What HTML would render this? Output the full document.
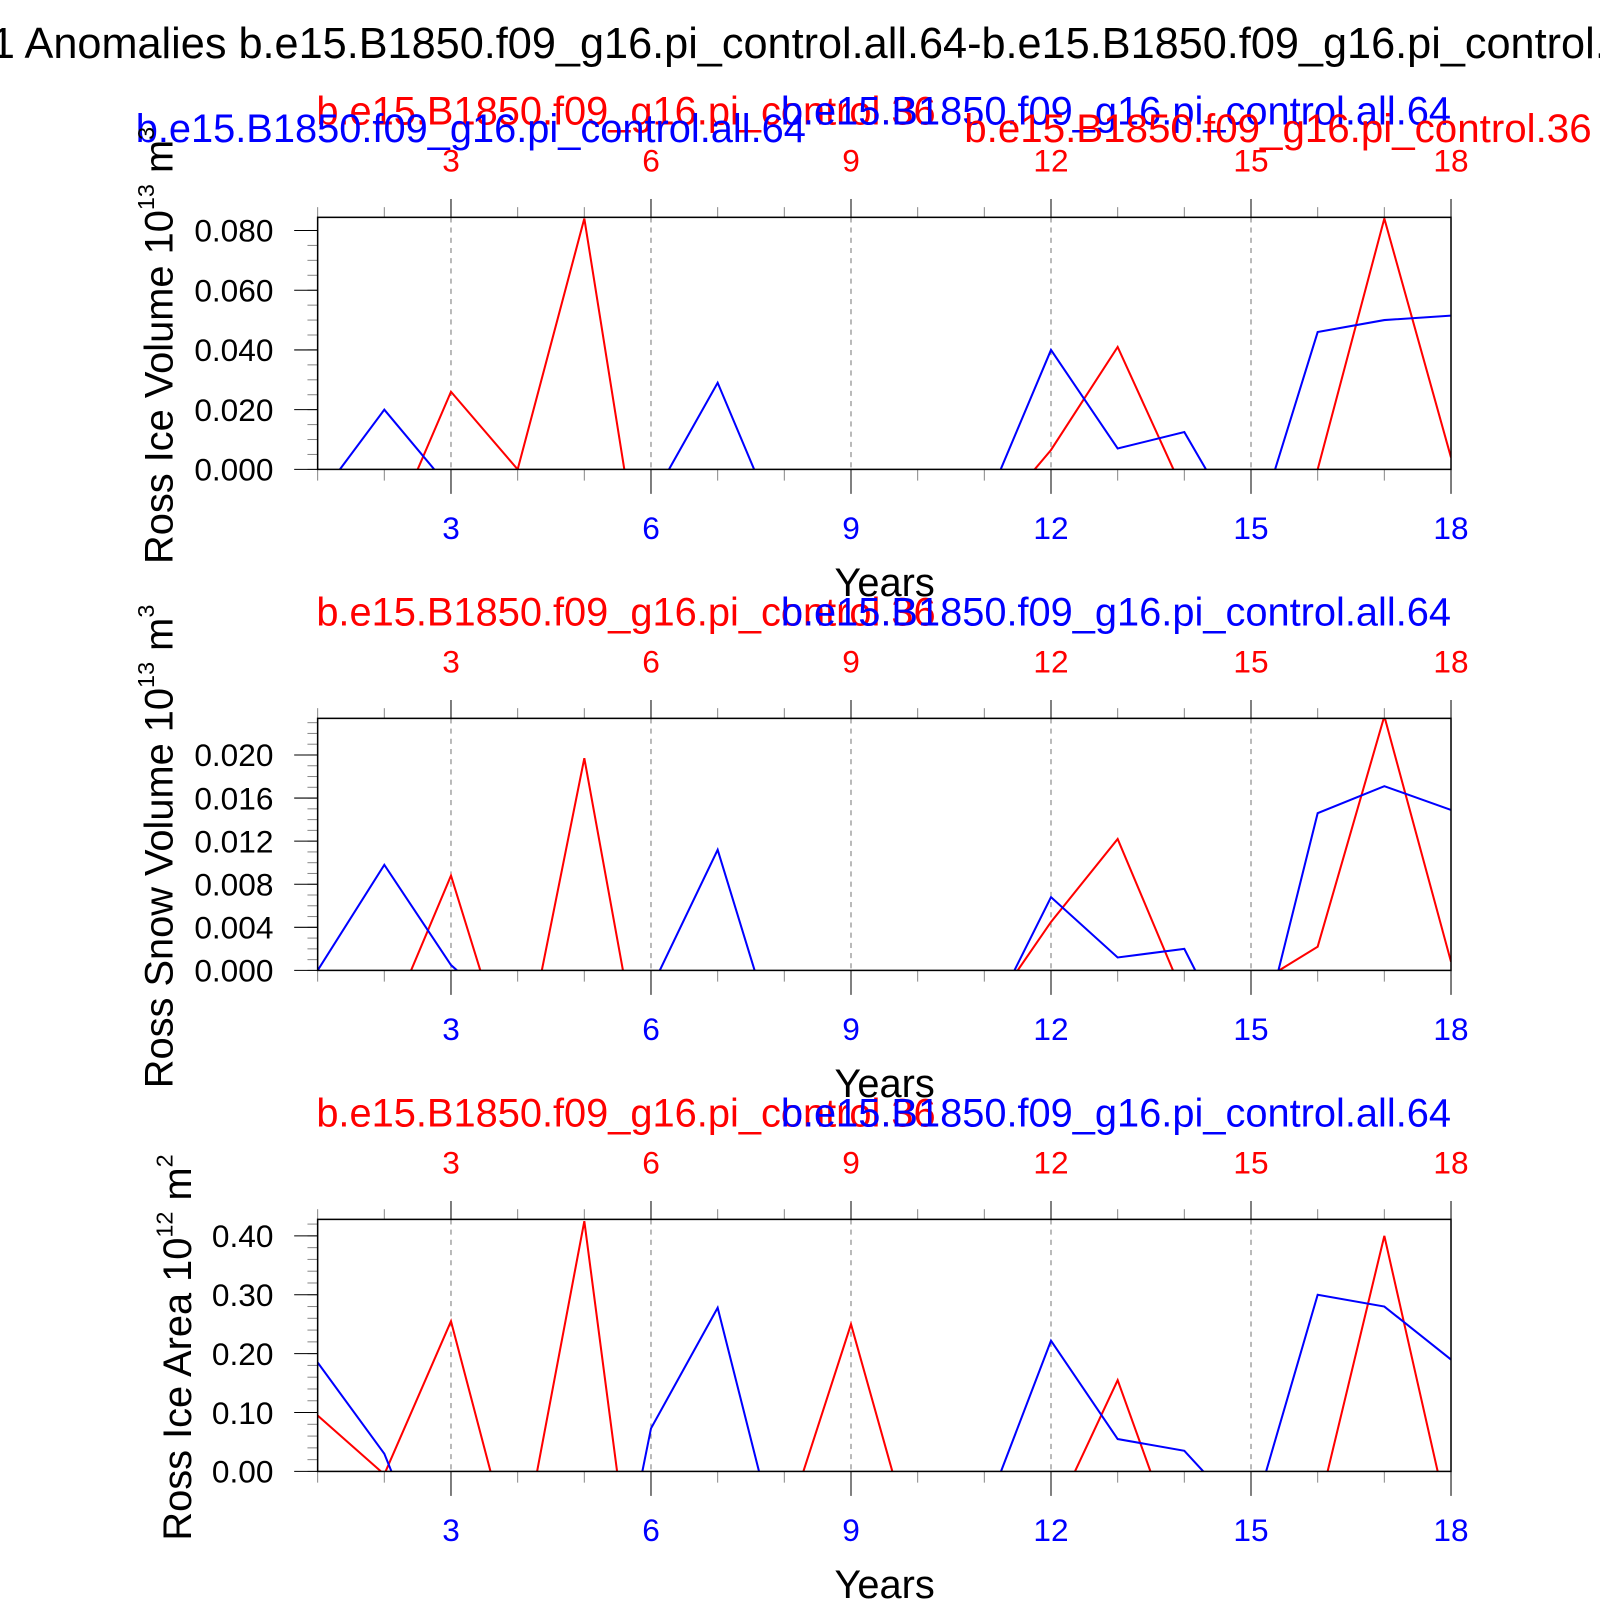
<!DOCTYPE html>
<html><head><meta charset="utf-8"><style>
html,body{margin:0;padding:0;background:#fff;width:1600px;height:1600px;overflow:hidden;}
svg{display:block;font-family:"Liberation Sans",sans-serif;}
</style></head><body>
<svg id="chart" width="1600" height="1600" viewBox="0 0 1600 1600" xmlns="http://www.w3.org/2000/svg">
<g transform="scale(1.0204)">
<text x="-9" y="57" font-size="42.4" fill="#000">1 Anomalies b.e15.B1850.f09_g16.pi_control.all.64-b.e15.B1850.f09_g16.pi_control.all.36</text>
<g id="plots"></g>
</g>
</svg>
<script>
const years = [1,2,3,4,5,6,7,8,9,10,11,12,13,14,15,16,17,18];
const xTicks = [3,6,9,12,15,18];
const iceVolBlue = [-0.010,0.020,-0.0067,-0.01,-0.01,-0.0107,0.029,-0.024,-0.02,-0.02,-0.013,0.040,0.007,0.0125,-0.026,0.046,0.050,0.0515];
const iceVolRed = [-0.03,-0.026,0.026,0,0.084,-0.056,-0.05,-0.05,-0.05,-0.05,-0.02,0.0065,0.041,-0.008,-0.02,0,0.084,0.004];
const snowVolBlue = [0,0.0098,0.0005,-0.005,-0.005,-0.0017,0.0112,-0.009,-0.008,-0.008,-0.0056,0.0068,0.0012,0.002,-0.0102,0.0146,0.0171,0.0149];
const snowVolRed = [-0.01,-0.0059,0.0088,-0.0112,0.0197,-0.0143,-0.01,-0.01,-0.01,-0.01,-0.0045,0.0045,0.0122,-0.0025,-0.0016,0.0022,0.0236,0.0008];
const areaBlue = [0.185,0.03,-0.25,-0.2,-0.49,0.073,0.278,-0.17,-0.2,-0.2,-0.074,0.222,0.055,0.035,-0.088,0.30,0.28,0.19];
const areaRed = [0.095,-0.005,0.255,-0.175,0.425,-0.44,-0.3,-0.10,0.25,-0.153,-0.1,-0.087,0.155,-0.16,-0.1,-0.07,0.40,-0.1];
const iceVolTicks = ["0.000","0.020","0.040","0.060","0.080"];
const snowVolTicks = ["0.000","0.004","0.008","0.012","0.016","0.020"];
const areaTicks = ["0.00","0.10","0.20","0.30","0.40"];

const NS="http://www.w3.org/2000/svg";
const root=document.getElementById('plots');
function mk(tag,attrs,parent){const e=document.createElementNS(NS,tag);for(const k in attrs)e.setAttribute(k,attrs[k]);(parent||root).appendChild(e);return e;}
const X0=311.3,X1=1422;
function xs(v){return X0+(v-1)*(X1-X0)/17;}

const panels=[
 {top:213,bot:460,ymax:0.0844,ticks:iceVolTicks,minor:0.005,blue:iceVolBlue,red:iceVolRed,label:"Ross Ice Volume 10",sup:"13",unit:" m",usup:"3",lx:155,extra:true,key:"ice-volume"},
 {top:704,bot:951,ymax:0.0234,ticks:snowVolTicks,minor:0.001,blue:snowVolBlue,red:snowVolRed,label:"Ross Snow Volume 10",sup:"13",unit:" m",usup:"3",lx:155,extra:false,key:"snow-volume"},
 {top:1195,bot:1442,ymax:0.428,ticks:areaTicks,minor:0.02,blue:areaBlue,red:areaRed,label:"Ross Ice Area 10",sup:"12",unit:" m",usup:"2",lx:173,extra:false,key:"ice-area"}
];
panels.forEach((p,pi)=>{
 const g=mk('g',{});
 
 
 const ys=v=>p.bot-(v/p.ymax)*(p.bot-p.top);
 const cid='clip'+pi;
 const cp=mk('clipPath',{id:cid},g);mk('rect',{x:X0,y:p.top,width:X1-X0,height:p.bot-p.top},cp);
 xTicks.slice(0,-1).forEach(t=>{const l=mk('line',{x1:xs(t),x2:xs(t),y1:p.top,y2:p.bot,stroke:'#777','stroke-width':1,'stroke-dasharray':'5,5'},g);
  });
 years.forEach(t=>{const major=t%3===0;
  mk('line',{x1:xs(t),x2:xs(t),y1:p.top,y2:p.top-(major?18:10),stroke:major?'#000':'#888','stroke-width':1},g);
  mk('line',{x1:xs(t),x2:xs(t),y1:p.bot,y2:p.bot+(major?24:11),stroke:major?'#000':'#888','stroke-width':1},g);});
 xTicks.forEach(t=>{
  const a=mk('text',{x:xs(t),y:p.top-45,'font-size':31,fill:'#f00','text-anchor':'middle'},g);a.textContent=t;
  
  const b=mk('text',{x:xs(t),y:p.bot+68,'font-size':31,fill:'#00f','text-anchor':'middle'},g);b.textContent=t;
  });
 for(let v=0;v<=p.ymax+1e-9;v+=p.minor){mk('line',{x1:X0,x2:X0-10,y1:ys(v),y2:ys(v),stroke:'#888','stroke-width':1},g);}
 p.ticks.forEach(s=>{const v=parseFloat(s);mk('line',{x1:X0,x2:X0-23,y1:ys(v),y2:ys(v),stroke:'#000','stroke-width':1},g);
  const t=mk('text',{x:268,y:ys(v)+11,'font-size':31,fill:'#000','text-anchor':'end'},g);t.textContent=s;
  });
 [[p.red,'#f00','red-series'],[p.blue,'#00f','blue-series']].forEach(([arr,c,n])=>{
  const pts=arr.map((v,i)=>xs(years[i])+','+ys(v)).join(' ');
  const pl=mk('polyline',{points:pts,fill:'none',stroke:c,'stroke-width':2,'clip-path':'url(#'+cid+')'},g);
  });
 const fr=mk('rect',{x:X0,y:p.top,width:X1-X0,height:p.bot-p.top,fill:'none',stroke:'#000','stroke-width':1.5},g);
 
 const rt=mk('text',{x:310,y:p.top-91,'font-size':39,fill:'#f00'},g);rt.textContent='b.e15.B1850.f09_g16.pi_control.36';
 
 const bt=mk('text',{x:1422,y:p.top-91,'font-size':39,fill:'#00f','text-anchor':'end'},g);bt.textContent='b.e15.B1850.f09_g16.pi_control.all.64';
 
 if(p.extra){
  const b2=mk('text',{x:133,y:p.top-74,'font-size':39,fill:'#00f'},g);b2.textContent='b.e15.B1850.f09_g16.pi_control.all.64';
  
  const r2=mk('text',{x:945,y:p.top-74,'font-size':39.5,fill:'#f00'},g);r2.textContent='b.e15.B1850.f09_g16.pi_control.36';
  
 }
 const xt=mk('text',{x:867,y:p.bot+124,'font-size':39,fill:'#000','text-anchor':'middle'},g);xt.textContent='Years';
 
 const cy=(p.top+p.bot)/2+2;
 const yt=mk('text',{x:0,y:0,'font-size':39,fill:'#000','text-anchor':'middle',transform:'translate('+(p.lx+14)+','+cy+') rotate(-90)'},g);
 
 const t1=mk('tspan',{},yt);t1.textContent=p.label;
 const t2=mk('tspan',{dy:-18,'font-size':23},yt);t2.textContent=p.sup;
 const t3=mk('tspan',{dy:18},yt);t3.textContent=p.unit;
 const t4=mk('tspan',{dy:-18,'font-size':23},yt);t4.textContent=p.usup;
});
</script>
</body></html>
